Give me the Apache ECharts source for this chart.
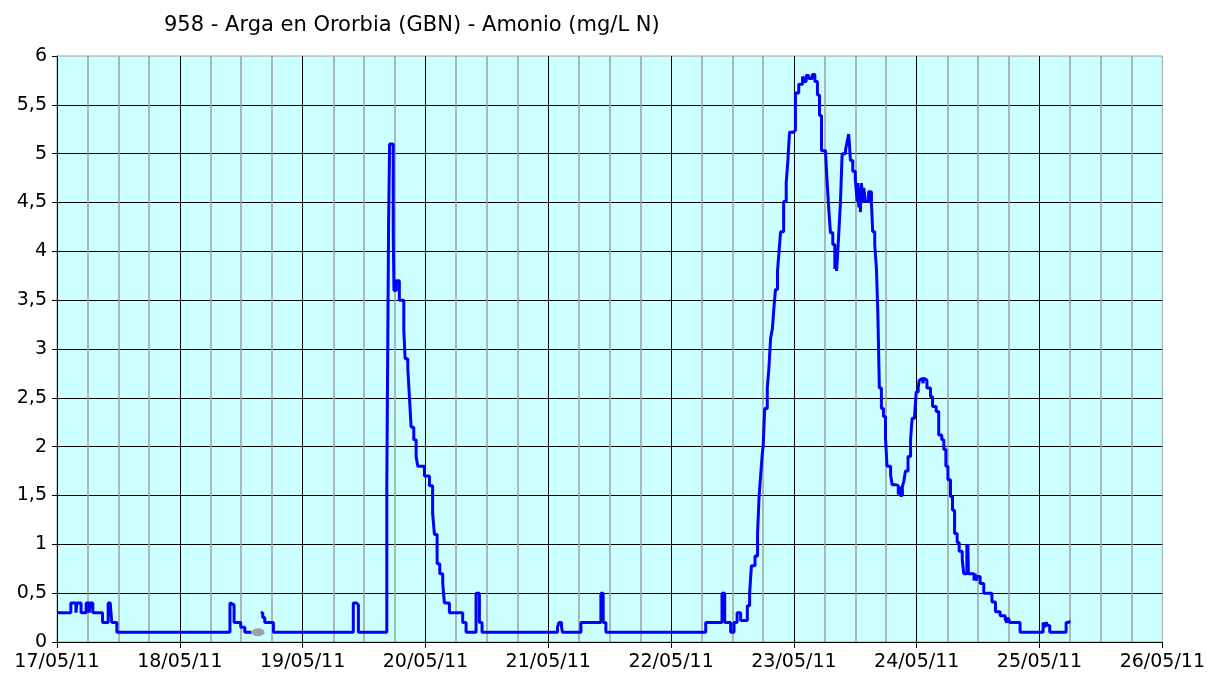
<!DOCTYPE html>
<html>
<head>
<meta charset="utf-8">
<script src="https://cdn.jsdelivr.net/npm/echarts@6/dist/echarts.min.js"></script>
<style>
html,body{margin:0;padding:0;background:#fff;}
#chart{width:1208px;height:677px;}
</style>
</head>
<body>
<div id="chart"></div>
<script>
const titleText = '958 - Arga en Ororbia (GBN) - Amonio (mg/L N)';
const dayLabels = ['17/05/11','18/05/11','19/05/11','20/05/11','21/05/11','22/05/11','23/05/11','24/05/11','25/05/11','26/05/11'];
const yTicks = [0,0.5,1,1.5,2,2.5,3,3.5,4,4.5,5,5.5,6];

// hours since 17/05/11 00:00
const hours = [
  0,2.7,3.7,3.9,4.7,5.7,6.3,6.5,7.0,8.9,10.0,10.4,10.7,11.7,33.8,34.1,34.6,35.9,36.7,38.0,38.05,
  39.8,40.2,40.6,42.3,57.9,58.5,58.9,64.45,64.8,65.0,65.7,65.85,66.3,66.9,67.77,68.03,68.55,68.88,69.2,69.72,70.18,70.5,71.8,72.78,73.4,73.76,74.28,74.8,75.38,75.7,76.68,79.28,79.94,81.89,82.54,83.06,
  97.8,98.1,98.6,98.79,102.38,106.28,106.73,107.26,126.77,129.95,130.48,131.65,132.3,132.9,133.6,134.9,135.35,135.7,136.4,136.9,137.2,137.5,137.8,138.0,138.3,138.8,139.1,139.45,139.8,140.1,140.4,140.8,141.1,141.4,142.0,142.5,142.8,143.15,143.9,144.3,144.95,145.7,146.0,146.4,146.9,147.6,148.1,148.6,149.0,149.4,150.2,150.5,150.83,151.15,151.6,152.0,152.2,152.35,152.5,152.8,153.1,153.43,154.1,154.4,154.7,154.85,155.05,155.5,156.0,156.36,156.5,156.7,156.85,157.0,157.2,157.4,157.65,158.0,158.6,159.15,159.4,159.8,160.13,160.4,160.7,161.1,161.5,161.9,162.2,162.9,163.2,164.0,164.4,164.6,164.8,165.2,165.5,165.8,166.3,166.8,167.1,167.6,167.9,168.3,168.5,168.8,169.2,169.4,169.7,170.0,170.7,171.1,171.8,172.3,172.9,173.3,173.7,174.1,174.6,175.0,175.4,175.9,176.3,176.9,177.2,177.8,177.9,178.0,178.1,179.2,179.4,179.6,179.9,180.4,181.1,182.7,183.4,184.3,185.3,185.6,185.9,186.2,186.9,188.2,192.7,193.0,193.3,193.6,194.0,197.2,197.8
];
const values = [
  0.3,0.4,0.3,0.4,0.3,0.4,0.3,0.4,0.3,0.2,0.4,0.38,0.2,0.1,0.4,0.38,0.2,0.15,0.1,0.1,null,
  0.3,0.25,0.2,0.1,0.4,0.38,0.1,1.6,4.3,5.1,4.2,3.6,3.7,3.5,3.2,2.9,2.8,2.5,2.2,2.07,1.9,1.8,1.7,1.6,1.32,1.1,0.8,0.7,0.6,0.4,0.3,0.2,0.1,0.5,0.2,0.1,
  0.15,0.2,0.15,0.1,0.2,0.5,0.2,0.1,0.2,0.5,0.2,0.1,0.2,0.3,0.22,0.37,0.5,0.78,0.88,1.11,1.49,1.70,1.91,2.01,2.39,2.60,2.79,3.11,3.21,3.42,3.61,3.80,4.0,4.2,4.51,4.70,4.91,5.22,5.24,5.62,5.71,5.79,5.74,5.8,5.77,5.81,5.74,5.6,5.39,5.03,5.0,4.7,4.42,4.19,4.07,3.82,3.9,3.8,3.93,4.21,4.51,5.0,5.04,5.12,5.2,5.1,4.93,4.82,4.74,4.51,4.7,4.45,4.65,4.4,4.7,4.5,4.65,4.51,4.61,4.5,4.2,4.07,3.82,3.38,2.6,2.39,2.31,2.09,1.80,1.71,1.61,1.6,1.51,1.59,1.5,1.59,1.65,1.75,1.9,2.07,2.29,2.33,2.56,2.61,2.68,2.7,2.65,2.7,2.68,2.6,2.51,2.41,2.36,2.12,2.07,1.97,1.80,1.66,1.49,1.35,1.11,1.02,0.93,0.84,0.70,1.0,0.7,1.0,0.7,0.63,0.7,0.63,0.67,0.6,0.5,0.41,0.31,0.27,0.23,0.2,0.25,0.2,0.2,0.1,0.2,0.15,0.2,0.17,0.1,0.2,0.22
];
// flagged (grey) reading
const greyHours = [39.3];
const greyValues = [0.1];

const lineData = hours.map((h,i)=>[h, values[i]===null ? '-' : values[i]]);
const greyData = greyHours.map((h,i)=>[h, greyValues[i]]);

const chart = echarts.init(document.getElementById('chart'), null, {renderer:'canvas'});
const lblFont = {fontFamily:'DejaVu Sans', fontSize:19, color:'#000'};
chart.setOption({
  animation:false,
  backgroundColor:'#ffffff',
  title:{
    text:titleText, left:159, top:10,
    textStyle:{fontFamily:'DejaVu Sans', fontSize:21, fontWeight:'normal', color:'#000'}
  },
  grid:{
    left:57, right:45, top:56, bottom:35,
    show:true, backgroundColor:'#CCFFFF', borderColor:'#A0A0A0', borderWidth:1
  },
  xAxis:{
    type:'value', min:0, max:216, interval:24,
    axisLine:{show:true, lineStyle:{color:'#000', width:1}},
    axisTick:{show:true, length:6, lineStyle:{color:'#000'}},
    axisLabel:Object.assign({margin:11, formatter:v=>dayLabels[Math.round(v/24)]}, lblFont),
    splitLine:{show:true, showMinLine:false, showMaxLine:false, lineStyle:{color:'#000', width:1}},
    minorTick:{show:false, splitNumber:4},
    minorSplitLine:{show:true, lineStyle:{color:'#A0A0A0', width:1.5}}
  },
  yAxis:{
    type:'value', min:0, max:6, interval:0.5,
    axisLine:{show:true, lineStyle:{color:'#000', width:1}},
    axisTick:{show:true, length:5, lineStyle:{color:'#000'}},
    axisLabel:Object.assign({margin:10, formatter:v=>{const t=yTicks.find(k=>Math.abs(k-v)<1e-9); return String(t===undefined?v:t).replace('.',',');}}, lblFont),
    splitLine:{show:true, showMinLine:false, showMaxLine:false, lineStyle:{color:'#000', width:1}}
  },
  series:[
    {
      type:'line', data:lineData, step:'end', showSymbol:false, symbol:'none',
      connectNulls:false,
      lineStyle:{color:'#0000FF', width:3}, z:3
    },
    {
      type:'scatter', data:greyData, symbol:'circle', symbolSize:[13,8],
      itemStyle:{color:'#8C8C8C'}, z:4
    }
  ]
});
</script>
</body>
</html>
